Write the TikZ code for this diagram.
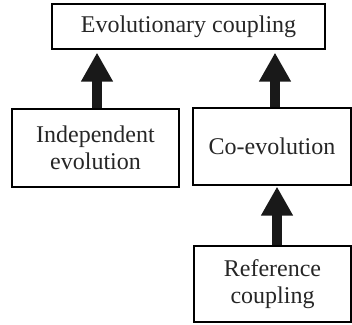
\documentclass[tikz,border=0pt]{standalone}
\usepackage{fontspec}
\setmainfont{Liberation Serif}
\usetikzlibrary{arrows.meta}
\tikzset{
  box/.style={draw, line width=1.2pt, inner sep=0pt, align=center,
    font=\fontsize{24}{27}\selectfont, text=black!85},
  bigarrow/.style={line width=10pt, -{Triangle[width=30pt,length=29pt]}, black!90}
}
\begin{document}
\begin{tikzpicture}[x=1pt,y=1pt]
\useasboundingbox (0,0) rectangle (352,324);
\node[box, minimum width=273pt, minimum height=45pt] (top) at (188.5,297.5) {Evolutionary coupling};
\node[box, minimum width=167pt, minimum height=78pt] (ind) at (95.5,176) {Independent\\evolution};
\node[box, minimum width=158pt, minimum height=77pt] (coe) at (272,177.5) {Co-evolution};
\node[box, minimum width=157pt, minimum height=76pt] (ref) at (272.5,40) {Reference\\coupling};
\draw[bigarrow, shorten >=3pt] ([xshift=1.5pt]ind.north) -- ([xshift=1.5pt]ind.north |- top.south);
\draw[bigarrow, shorten >=3pt] ([xshift=3pt]coe.north) -- ([xshift=3pt]coe.north |- top.south);
\draw[bigarrow, shorten >=1pt] ([xshift=4.5pt]ref.north) -- ([xshift=4.5pt]ref.north |- coe.south);
\end{tikzpicture}
\end{document}
